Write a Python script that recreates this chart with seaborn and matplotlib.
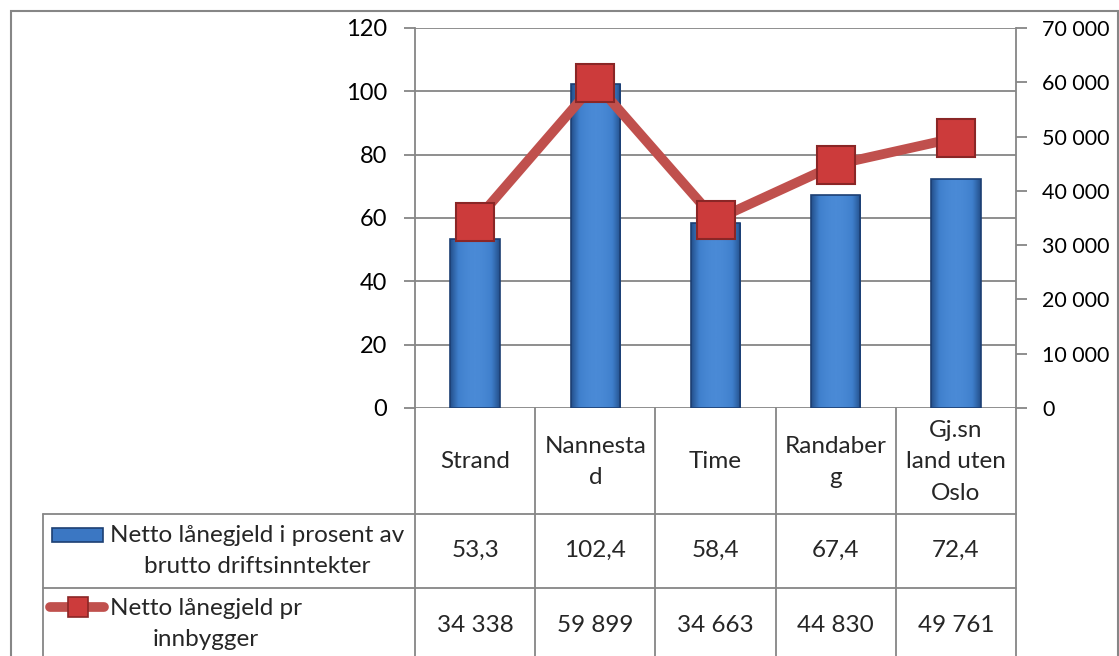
import matplotlib
matplotlib.use("Agg")
import matplotlib.pyplot as plt
import numpy as np
import seaborn as sns
from matplotlib.colors import LinearSegmentedColormap
from matplotlib.lines import Line2D
from matplotlib.patches import Rectangle
from matplotlib.transforms import blended_transform_factory

# Data
categories = ["Strand", "Nannesta\nd", "Time", "Randaber\ng", "Gj.sn\nland uten\nOslo"]
pct_values = [53.3, 102.4, 58.4, 67.4, 72.4]
per_capita_values = [34338, 59899, 34663, 44830, 49761]
pct_label = "Netto lånegjeld i prosent av\nbrutto driftsinntekter"
per_capita_label = "Netto lånegjeld pr\ninnbygger"
left_ticks = [0, 20, 40, 60, 80, 100, 120]
right_ticks = [0, 10000, 20000, 30000, 40000, 50000, 60000, 70000]

# Styling
W, H = 1119, 656
GRID = "#868686"
BAR = "#3b77c3"
BAR_EDGE = "#1c3f73"
LINE = "#c0504d"
MARK_FACE = "#cc3b3b"
MARK_EDGE = "#8a2626"
FS = 17.5
TICK_FS = 17
RTICK_FS = 15.5


def fmt_pct(v):
    return f"{v:.1f}".replace(".", ",")


def fmt_thousands(v):
    return f"{v:,}".replace(",", " ")


def fx(px):
    return px / W


def fy(py):
    return 1 - py / H


sns.set_theme(style="white")
plt.rcParams["font.family"] = ["Lato", "DejaVu Sans"]

fig = plt.figure(figsize=(W / 100, H / 100), dpi=100)
ax = fig.add_axes([fx(415), fy(408), (1016 - 415) / W, (408 - 28) / H])

# Bars (left axis)
sns.barplot(x=categories, y=pct_values, color=BAR, saturation=1, width=0.41,
            edgecolor=BAR_EDGE, linewidth=1.2, ax=ax, zorder=2)
ax.set_xlim(-0.5, len(categories) - 0.5)
ax.set_ylim(0, 120)

# Horizontal shading on the bars
shade = LinearSegmentedColormap.from_list("shade", ["#24508c", "#3f7fcc", "#4a8ad6"])
grad = np.sin(np.linspace(0, np.pi, 60))[None, :]
for patch in list(ax.patches):
    bb = patch.get_bbox()
    im = ax.imshow(grad, cmap=shade, extent=[bb.x0, bb.x1, bb.y0, bb.y1],
                   aspect="auto", zorder=2.1, vmin=0, vmax=1)
    im.set_clip_path(patch)
    patch.set_facecolor("none")
    patch.set_zorder(2.2)
ax.set_xlim(-0.5, len(categories) - 0.5)
ax.set_ylim(0, 120)

ax.set_yticks(left_ticks)
ax.set_xticks([])
ax.set_xlabel("")
ax.set_ylabel("")
ax.yaxis.grid(True, color=GRID, lw=1.3)
ax.set_axisbelow(True)
for side in ["top", "right", "bottom"]:
    ax.spines[side].set_visible(False)
ax.spines["left"].set_color(GRID)
ax.spines["left"].set_linewidth(1.3)
ax.tick_params(axis="y", left=True, length=8, width=1.3, color=GRID,
               pad=12, labelsize=TICK_FS, labelcolor="black")

# Line (right axis)
ax2 = ax.twinx()
sns.lineplot(x=np.arange(len(categories)), y=per_capita_values, ax=ax2, sort=False,
             color=LINE, lw=7, marker="s", markersize=28, markerfacecolor=MARK_FACE,
             markeredgecolor=MARK_EDGE, markeredgewidth=1.5, zorder=5)
ax2.set_ylim(0, 70000)
ax2.set_yticks(right_ticks)
ax2.yaxis.set_major_formatter(lambda v, p: fmt_thousands(int(v)))
ax2.grid(False)
ax2.set_ylabel("")
for side in ["top", "left", "bottom"]:
    ax2.spines[side].set_visible(False)
ax2.spines["right"].set_color(GRID)
ax2.spines["right"].set_linewidth(1.3)
ax2.tick_params(axis="y", right=True, length=8, width=1.3, color=GRID,
                pad=11, labelsize=RTICK_FS, labelcolor="black")

# Data table below the plot
tcol = blended_transform_factory(ax.transData, fig.transFigure)
lw = 1.3
for i in range(len(categories) + 1):
    fig.add_artist(Line2D([i - 0.5, i - 0.5], [fy(408), fy(670)], transform=tcol,
                          color=GRID, lw=lw, clip_on=False))
for row_y in [514, 588]:
    fig.add_artist(Line2D([fx(43), fx(1016)], [fy(row_y), fy(row_y)],
                          color=GRID, lw=lw))
fig.add_artist(Line2D([fx(43), fx(43)], [fy(514), fy(670)], color=GRID, lw=lw))

for i, cat in enumerate(categories):
    fig.text(i, fy(462), cat, transform=tcol, ha="center", va="center",
             fontsize=FS, linespacing=1.6)
    fig.text(i, fy(550), fmt_pct(pct_values[i]), transform=tcol,
             ha="center", va="center", fontsize=FS)
    fig.text(i, fy(625), fmt_thousands(per_capita_values[i]), transform=tcol,
             ha="center", va="center", fontsize=FS)

# Row headers with legend keys
fig.text(fx(110), fy(551), pct_label, ha="left", va="center", multialignment="center",
         fontsize=FS, linespacing=1.55)
fig.text(fx(110), fy(624), per_capita_label, ha="left", va="center",
         multialignment="center", fontsize=FS, linespacing=1.55)
fig.add_artist(Rectangle((fx(52), fy(542)), fx(103) - fx(52), fy(528) - fy(542),
                         facecolor=BAR, edgecolor=BAR_EDGE, lw=1.2))
fig.add_artist(Line2D([fx(50), fx(104)], [fy(607), fy(607)], color=LINE, lw=7,
                      solid_capstyle="round"))
fig.add_artist(Line2D([fx(77.5)], [fy(607)], marker="s", markersize=15,
                      markerfacecolor=MARK_FACE, markeredgecolor=MARK_EDGE,
                      markeredgewidth=1.2, lw=0))

# Outer chart frame
fig.add_artist(Rectangle((fx(11), fy(700)), fx(1118) - fx(11), fy(11) - fy(700),
                         fill=False, edgecolor=GRID, lw=1.5))

fig.savefig("out.png", dpi=100)
